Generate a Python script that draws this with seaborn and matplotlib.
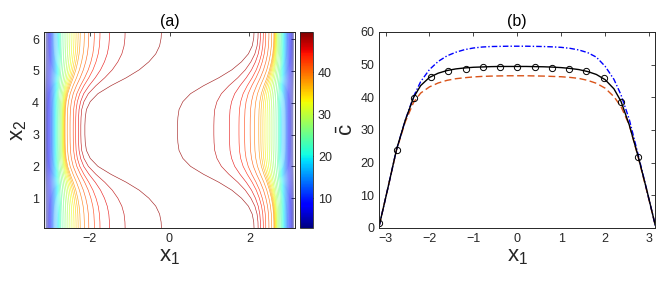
import numpy as np
import pandas as pd
import matplotlib
matplotlib.use("Agg")
import matplotlib.pyplot as plt
import seaborn as sns
from matplotlib.colors import Normalize
from matplotlib.cm import ScalarMappable

# ---------------- panel (b) data ----------------
x_line = [-3.1416, -2.95, -2.75, -2.55, -2.36, -2.2, -2.0, -1.8, -1.6, -1.4, -1.2, -1.0,
          -0.8, -0.6, -0.4, -0.2, 0.0, 0.2, 0.4, 0.6, 0.8, 1.0, 1.2, 1.4, 1.6, 1.8,
          2.0, 2.2, 2.36, 2.55, 2.75, 2.95, 3.1416]
c_mean = [0.8, 12.0, 24.0, 33.0, 40.0, 43.6, 46.1, 47.4, 48.2, 48.7, 49.0, 49.2,
          49.3, 49.4, 49.45, 49.45, 49.45, 49.45, 49.4, 49.35, 49.25, 49.1, 48.85, 48.5, 47.9, 47.0,
          45.4, 42.6, 38.8, 31.5, 22.0, 11.5, 0.8]
c_upper = [0.8, 12.0, 24.0, 33.0, 40.3, 44.8, 48.5, 51.0, 52.7, 53.8, 54.6, 55.1,
           55.4, 55.55, 55.6, 55.65, 55.65, 55.65, 55.6, 55.55, 55.45, 55.3, 55.0, 54.5, 53.7, 52.3,
           49.5, 45.5, 40.8, 33.2, 22.5, 11.5, 0.8]
c_lower = [0.8, 12.0, 23.8, 32.5, 38.5, 41.3, 43.2, 44.4, 45.2, 45.7, 46.0, 46.25,
           46.4, 46.5, 46.55, 46.6, 46.6, 46.6, 46.55, 46.5, 46.4, 46.3, 46.1, 45.8, 45.2, 44.3,
           42.8, 40.2, 37.2, 31.5, 21.8, 11.2, 0.8]
x_pts = [-3.1416, -2.7489, -2.3562, -1.9635, -1.5708, -1.1781, -0.7854, -0.3927,
         0.0, 0.3927, 0.7854, 1.1781, 1.5708, 1.9635, 2.3562, 2.7489]
c_pts = [1.4, 24.0, 39.8, 46.3, 48.1, 48.8, 49.3, 49.3, 49.3, 49.3, 49.1, 48.8,
         48.1, 46.0, 38.7, 21.8]

# ---------------- panel (a) data ----------------
# profile of the field along the unshifted coordinate, and its sideways shift
xi_nodes = [0.0, 0.6, 1.16, 1.665, 1.89, 2.045, 2.145, 2.255, 2.345, 2.425, 2.6, 2.75, 2.95, 3.1416]
p_nodes = [49.6, 49.4, 48.5, 47.0, 45.5, 44.0, 42.5, 41.0, 39.5, 38.0, 30.0, 24.0, 12.0, 0.5]
d_nodes = [0.96, 0.96, 0.96, 0.555, 0.39, 0.305, 0.265, 0.235, 0.215, 0.19, 0.09, 0.045, 0.015, 0.0]
x2_nodes = [0.0, 0.25, 0.5, 0.75, 1.0, 1.25, 1.5, 1.75, 2.0, 2.25, 2.5, 2.75, 3.0, 3.1416]
s_nodes = [1.0, 0.99, 0.95, 0.85, 0.67, 0.42, 0.08, -0.32, -0.66, -0.86, -0.96, -0.99, -1.0, -1.0]
levels = [3.5 + 1.5 * k for k in range(31)]
c_lim = (3.0, 49.5)

# ---------------- style ----------------
sns.set_style("white")
plt.rcParams["font.family"] = ["Liberation Sans", "DejaVu Sans"]
plt.rcParams["mathtext.fontset"] = "custom"
plt.rcParams["mathtext.rm"] = "Liberation Sans"
plt.rcParams["mathtext.it"] = "Liberation Sans"
plt.rcParams["mathtext.sf"] = "Liberation Sans"
dark = "#262626"
plt.rcParams.update({
    "xtick.direction": "in", "ytick.direction": "in",
    "xtick.top": True, "ytick.right": True,
    "xtick.major.size": 3, "ytick.major.size": 3,
    "xtick.major.width": 0.6, "ytick.major.width": 0.6,
    "xtick.color": dark, "ytick.color": dark,
    "xtick.labelsize": 9, "ytick.labelsize": 9,
    "axes.edgecolor": dark, "axes.linewidth": 0.7,
})

fig = plt.figure(figsize=(6.65, 2.87), dpi=100)
W, H = 665.0, 287.0
def box(x0, y0, x1, y1):
    return [x0 / W, 1 - y1 / H, (x1 - x0) / W, (y1 - y0) / H]

ax1 = fig.add_axes(box(44, 32, 295, 228))
cax = fig.add_axes(box(300, 32, 313, 228))
ax2 = fig.add_axes(box(379.3, 32, 655.3, 228))

# ---------------- panel (a) ----------------
xi = np.linspace(-np.pi, np.pi, 1201)
x2 = np.linspace(0.0628, 6.2204, 400)
x2_fold = np.where(x2 <= np.pi, x2, 2 * np.pi - x2)
S = np.interp(x2_fold, x2_nodes, s_nodes)
D = np.interp(np.abs(xi), xi_nodes, d_nodes)
P = np.interp(np.abs(xi), xi_nodes, p_nodes)
X = xi[None, :] + S[:, None] * D[None, :]
Y = np.repeat(x2[:, None], xi.size, axis=1)
Z = np.repeat(P[None, :], x2.size, axis=0)
norm = Normalize(*c_lim)
ax1.contour(X, Y, Z, levels=levels, cmap="jet", norm=norm, linewidths=0.45, alpha=0.85)
ax1.set_xlim(-np.pi, np.pi)
ax1.set_ylim(0.0628, 6.2204)
ax1.set_xticks([-2, 0, 2])
ax1.set_yticks([1, 2, 3, 4, 5, 6])
ax1.set_title("(a)", fontsize=11.5, color="black", pad=4)
ax1.set_xlabel("x$_1$", fontsize=16, labelpad=1)
ax1.set_ylabel("x$_2$", fontsize=16, labelpad=2)

cb = fig.colorbar(ScalarMappable(norm=norm, cmap="jet"), cax=cax)
cb.set_ticks([10, 20, 30, 40])
cb.outline.set_edgecolor(dark)
cb.outline.set_linewidth(0.6)
cax.tick_params(direction="in", length=2.5, labelsize=9, colors=dark)

# ---------------- panel (b) ----------------
df = pd.DataFrame({"x1": x_line, "mean": c_mean, "upper": c_upper, "lower": c_lower})
sns.lineplot(data=df, x="x1", y="lower", ax=ax2, color="#D95319", linewidth=1.0,
             linestyle=(0, (5, 2.5)))
sns.lineplot(data=df, x="x1", y="upper", ax=ax2, color="#0000FF", linewidth=1.0,
             linestyle=(0, (4, 1.5, 1, 1.5)))
sns.lineplot(data=df, x="x1", y="mean", ax=ax2, color="black", linewidth=1.0)
sns.lineplot(x=x_pts, y=c_pts, ax=ax2, linestyle="none", marker="o", markersize=4.5,
             markerfacecolor="none", markeredgecolor="black", markeredgewidth=0.7)
ax2.set_xlim(-np.pi, np.pi)
ax2.set_ylim(0, 60)
ax2.set_xticks([-3, -2, -1, 0, 1, 2, 3])
ax2.set_yticks([0, 10, 20, 30, 40, 50, 60])
ax2.set_title("(b)", fontsize=11.5, color="black", pad=4)
ax2.set_xlabel("x$_1$", fontsize=16, labelpad=1)
ax2.set_ylabel(r"$\bar{\mathrm{c}}$", fontsize=16, labelpad=2)

for ax in (ax1, ax2):
    for sp in ax.spines.values():
        sp.set_visible(True)
        sp.set_color(dark)

fig.savefig("out.png", dpi=100)
